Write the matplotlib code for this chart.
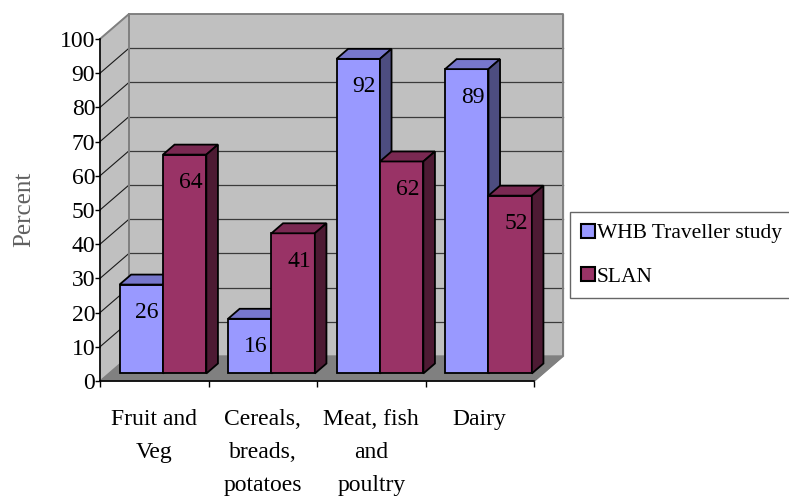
import matplotlib
matplotlib.use('Agg')
import matplotlib.pyplot as plt
from matplotlib.patches import Patch

plt.rcParams['font.family'] = ['Liberation Serif', 'DejaVu Serif']

# Survey results (percent meeting recommendations)
categories = ["Fruit and\nVeg", "Cereals,\nbreads,\npotatoes", "Meat, fish\nand\npoultry", "Dairy"]
series_names = ["WHB Traveller study", "SLAN"]
whb_values = [26, 16, 92, 89]
slan_values = [64, 41, 62, 52]
y_ticks = list(range(0, 101, 10))

# face colours: front, top, side
front_cols = ['#9999ff', '#993366']
top_cols = ['#7777cc', '#7a2952']
side_cols = ['#4d4d80', '#4d1a33']

# oblique projection offsets (category units, percent units)
DX, DY = 0.267, 7.3
D0, D1 = 0.3, 0.7       # bar depth fraction inside the floor
BAR_W = 0.4
GAP = 0.1
FS = 17

fig = plt.figure(figsize=(7.89, 5.00), dpi=100)
ax = fig.add_axes([0, 0, 1, 1])
ax.set_xlim(-0.9217, 6.3502)
ax.set_ylim(-34.80, 111.40)
ax.set_facecolor('none')

ncat = len(categories)
ymax = y_ticks[-1]

# walls and floor
wall = '#c0c0c0'
edge = '#808080'
ax.fill([DX, ncat + DX, ncat + DX, DX], [DY, DY, ymax + DY, ymax + DY],
        color=wall, zorder=0)
ax.fill([0, DX, DX, 0], [0, DY, ymax + DY, ymax], color=wall, zorder=0)
ax.fill([0, ncat, ncat + DX, DX], [0, 0, DY, DY], color='#808080', zorder=0)

for v in y_ticks[1:-1]:
    ax.plot([DX, ncat + DX], [v + DY, v + DY], color='#3a3a3a', lw=0.9, zorder=0.5)
    ax.plot([0, DX], [v, v + DY], color='#1a1a1a', lw=0.8, zorder=0.5)

ax.plot([0, DX, ncat + DX, ncat + DX, ncat], [ymax, ymax + DY, ymax + DY, DY, 0],
        color=edge, lw=1.4, zorder=0.6)
ax.plot([DX, DX], [DY, ymax + DY], color=edge, lw=1.4, zorder=0.6)


def draw_bar(x0, h, s):
    """Draw one 3D-looking column with its front-left-bottom corner at x0."""
    fx = x0 + D0 * DX
    fy = D0 * DY
    bx = x0 + D1 * DX
    by = D1 * DY
    w = BAR_W
    kw = dict(edgecolor='black', lw=1.3, joinstyle='miter', zorder=2)
    # front
    ax.fill([fx, fx + w, fx + w, fx], [fy, fy, fy + h, fy + h],
            facecolor=front_cols[s], **kw)
    # top
    ax.fill([fx, fx + w, bx + w, bx], [fy + h, fy + h, by + h, by + h],
            facecolor=top_cols[s], **kw)
    # right side
    ax.fill([fx + w, bx + w, bx + w, fx + w], [fy, by, by + h, fy + h],
            facecolor=side_cols[s], **kw)
    ax.annotate(f"{h}", xy=(fx + w / 2, fy + h), xytext=(6, -28),
                textcoords='offset pixels', ha='center', va='center',
                fontsize=FS, zorder=3)


for i in range(ncat):
    for s, vals in enumerate([whb_values, slan_values]):
        draw_bar(i + GAP + s * BAR_W, vals[i], s)

# front axes
for side in ['top', 'right']:
    ax.spines[side].set_visible(False)
ax.spines['left'].set_position(('data', 0))
ax.spines['left'].set_bounds(0, ymax)
ax.spines['bottom'].set_position(('data', 0))
ax.spines['bottom'].set_bounds(0, ncat)
for side in ['left', 'bottom']:
    ax.spines[side].set_linewidth(1.2)
    ax.spines[side].set_zorder(4)

ax.set_yticks(y_ticks)
ax.set_yticklabels([str(v) for v in y_ticks], fontsize=FS)
ax.tick_params(axis='y', direction='out', length=3.5, width=1, pad=0)
ax.set_xticks(range(ncat + 1))
ax.set_xticklabels([])
ax.tick_params(axis='x', which='major', direction='out', length=4.5, width=1)
ax.set_xticks([i + 0.5 for i in range(ncat)], minor=True)
ax.set_xticklabels(categories, minor=True, fontsize=FS)
ax.tick_params(axis='x', which='minor', length=0, pad=20)
for t in ax.get_xminorticklabels():
    t.set_linespacing(1.76)

ax.text(-0.70, 50.3, "Percent", rotation=90, ha='center', va='center',
        fontsize=18, color='#606060')

handles = [Patch(facecolor=front_cols[s], edgecolor='black', lw=1.5)
           for s in range(len(series_names))]
leg = ax.legend(handles, series_names, loc='upper left',
                bbox_to_anchor=(0.722, 0.576), bbox_transform=fig.transFigure,
                fontsize=15.5, frameon=True, fancybox=False, framealpha=1,
                edgecolor='#666666', handlelength=0.62, handleheight=0.62,
                handletextpad=0.1, borderpad=0.55, labelspacing=1.1,
                borderaxespad=0)
leg.get_frame().set_linewidth(1.0)

fig.savefig('out.png', dpi=100)
